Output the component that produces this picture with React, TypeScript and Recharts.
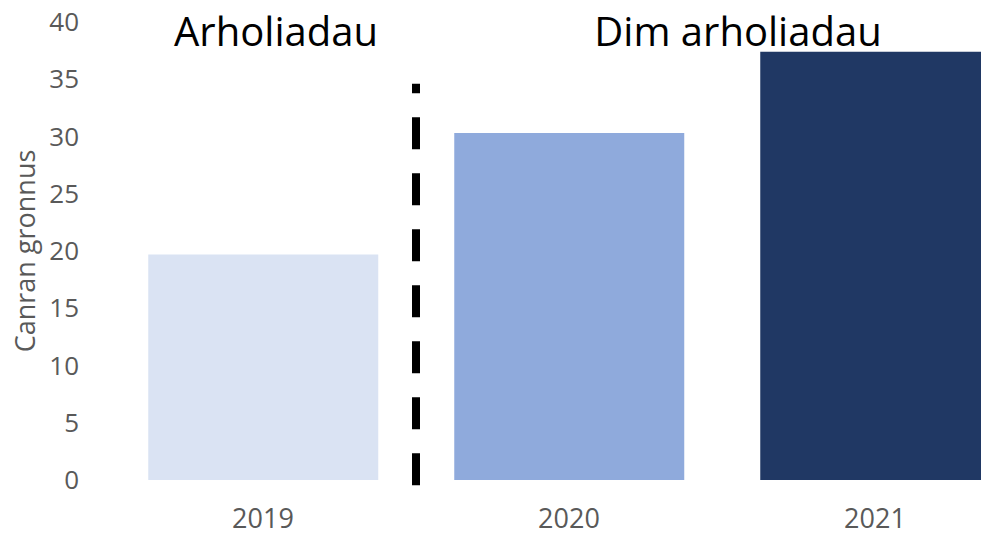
import { Bar, BarChart, Cell, XAxis, YAxis, ReferenceLine } from 'recharts';

const years = ['2019', '2020', '2021'];
const cumulativePct = [19.7, 30.3, 37.4];
const barColors = ['#DAE3F3', '#8FAADC', '#203864'];
const yTicks = [0, 5, 10, 15, 20, 25, 30, 35, 40];
// divider sits at the right edge of the 2019 band
const dividerAfter = '2019';
const dividerRange = [-0.45, 34.6];
const headings = ['Arholiadau', 'Dim arholiadau'];

const data = years.map((year, i) => ({ year, value: cumulativePct[i] }));

const FONT = '"Open Sans", "Noto Sans", sans-serif';
const TICK_GREY = '#595959';

export default function App() {
  return (
    <div
      style={{
        position: 'fixed',
        left: 0,
        top: 0,
        width: 981,
        height: 537,
        overflow: 'hidden',
        background: '#fff',
        fontFamily: FONT,
      }}
    >
      <BarChart
        width={1028}
        height={537}
        data={data}
        margin={{ top: 22, right: 0, left: 0, bottom: 0 }}
        barCategoryGap="12.5%"
      >
        <XAxis
          dataKey="year"
          axisLine={false}
          tickLine={false}
          tickSize={0}
          tickMargin={29}
          height={57}
          tick={{ fontSize: 27, fill: TICK_GREY, fontFamily: FONT }}
        />
        <YAxis
          domain={[0, 40]}
          ticks={yTicks}
          interval={0}
          axisLine={false}
          tickLine={false}
          tickSize={0}
          tickMargin={31}
          width={110}
          tick={{ fontSize: 26, fill: TICK_GREY, fontFamily: FONT }}
          label={{
            value: 'Canran gronnus',
            angle: -90,
            position: 'insideLeft',
            offset: 25,
            fontSize: 27,
            fill: TICK_GREY,
            fontFamily: FONT,
            style: { textAnchor: 'middle' },
          }}
        />
        <Bar dataKey="value" isAnimationActive={false}>
          {data.map((d, i) => (
            <Cell key={d.year} fill={barColors[i]} />
          ))}
        </Bar>
        <ReferenceLine
          position="end"
          segment={[
            { x: dividerAfter, y: dividerRange[0] },
            { x: dividerAfter, y: dividerRange[1] },
          ]}
          stroke="#000"
          strokeWidth={8}
          strokeDasharray="32 24"
          ifOverflow="visible"
        />
      </BarChart>
      <div
        style={{
          position: 'absolute',
          left: 276 - 150,
          width: 300,
          top: 3,
          textAlign: 'center',
          fontSize: 40,
          color: '#000',
        }}
      >
        {headings[0]}
      </div>
      <div
        style={{
          position: 'absolute',
          left: 738 - 200,
          width: 400,
          top: 3,
          textAlign: 'center',
          fontSize: 40,
          color: '#000',
        }}
      >
        {headings[1]}
      </div>
    </div>
  );
}
